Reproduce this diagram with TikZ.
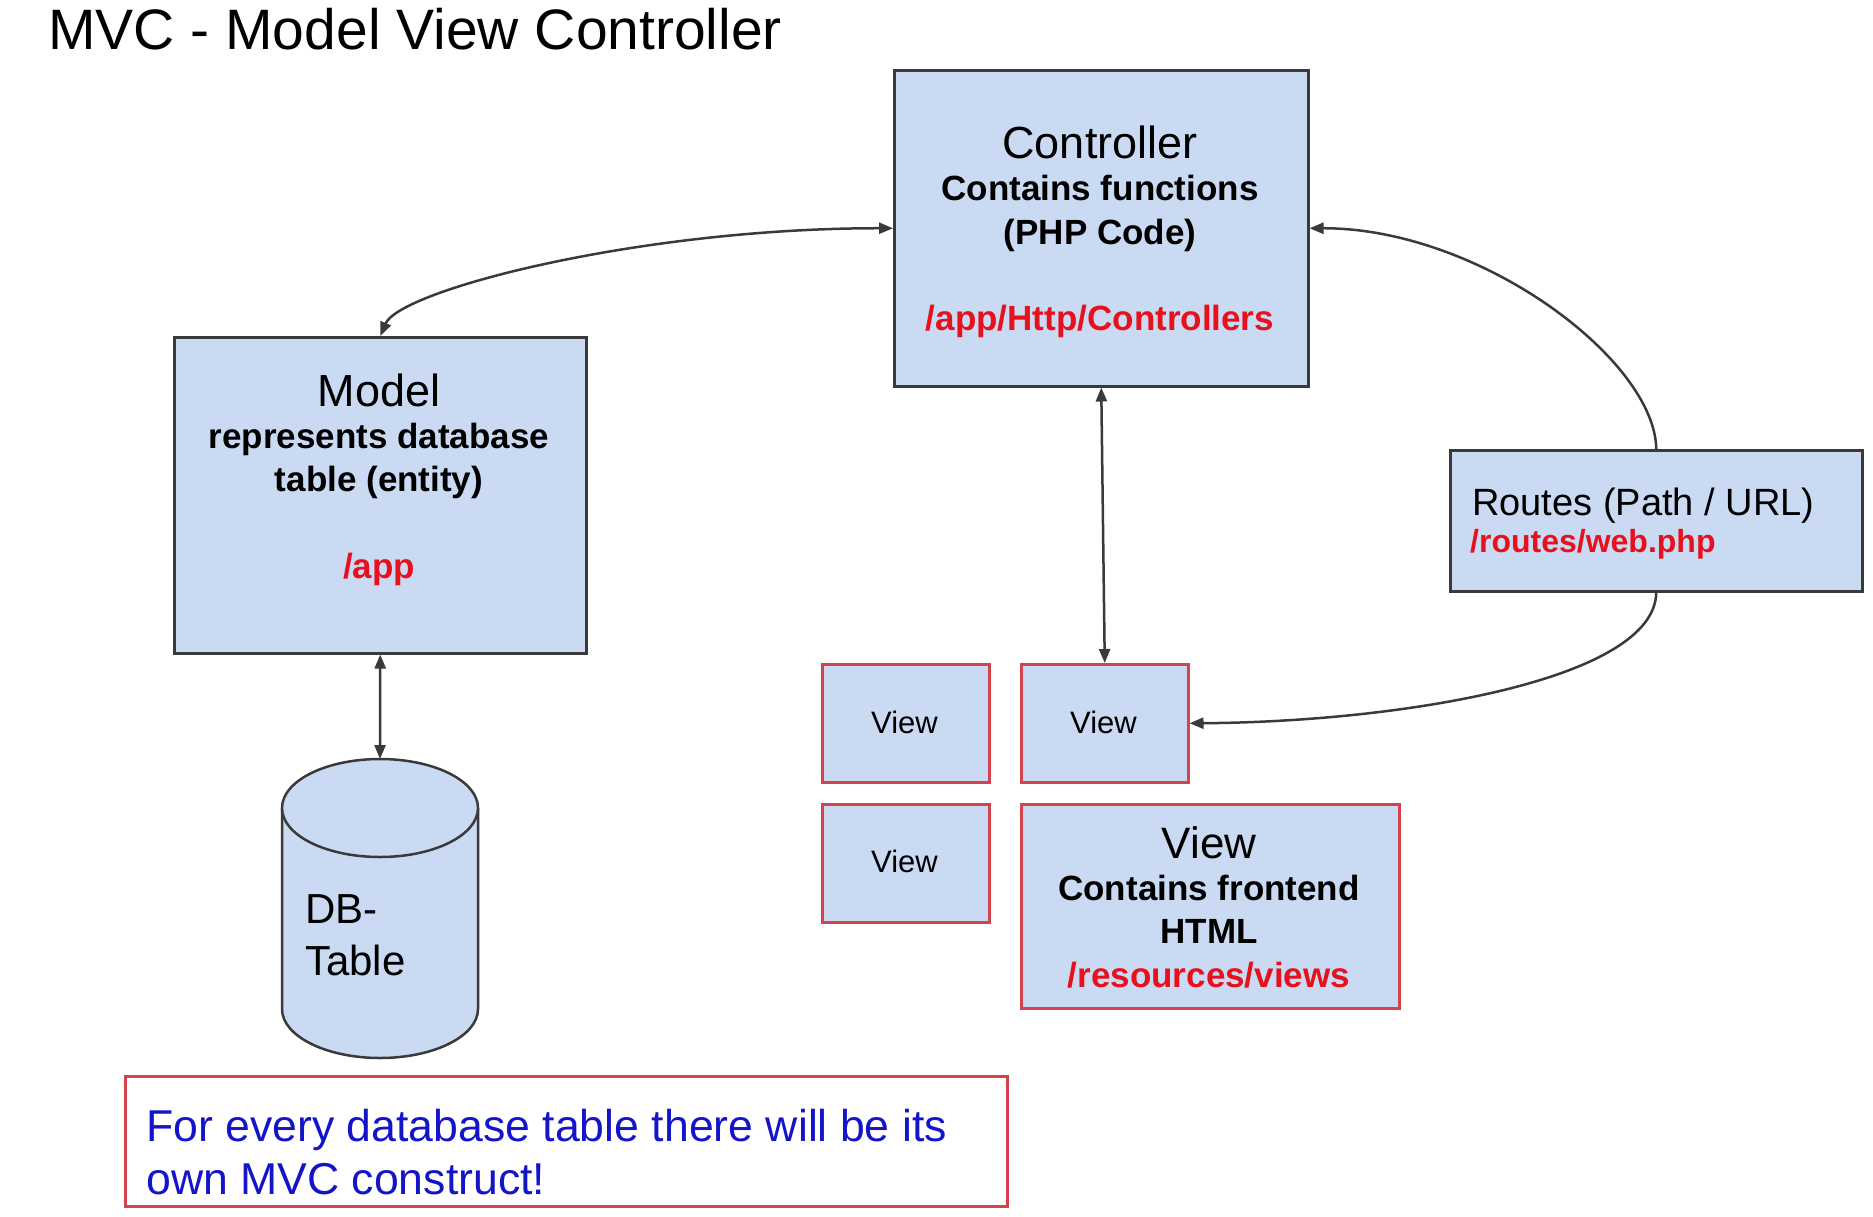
\documentclass[tikz,border=0pt]{standalone}
\usepackage{fontspec}
\setmainfont{Liberation Sans}
\usetikzlibrary{arrows.meta}
\definecolor{boxfill}{HTML}{C9DAF2}
\definecolor{boxline}{HTML}{3A3A3A}
\definecolor{viewline}{HTML}{D4424E}
\definecolor{pathred}{HTML}{E8101C}
\definecolor{noteblue}{HTML}{1414C8}
\begin{document}
\begin{tikzpicture}[x=1pt,y=-1pt,
  box/.style={draw=boxline, fill=boxfill, line width=2.5pt, inner sep=0pt, anchor=north west},
  viewbox/.style={draw=viewline, fill=boxfill, line width=2.5pt, inner sep=0pt, anchor=north west},
  notebox/.style={draw=viewline, fill=white, line width=2.5pt, inner sep=0pt, anchor=north west},
  txt/.style={inner sep=0pt, anchor=base},
  titlef/.style={txt, anchor=base west, font=\fontsize{57}{68}\selectfont},
  headf/.style={txt, font=\fontsize{45}{54}\selectfont},
  boldf/.style={txt, font=\fontsize{35}{42}\selectfont\bfseries},
  redf/.style={boldf, text=pathred},
  smallview/.style={txt, font=\fontsize{31}{37}\selectfont},
  conn/.style={draw=boxline, line width=2.5pt, -{Triangle[length=14pt,width=11pt]}},
  biconn/.style={draw=boxline, line width=2.5pt, {Triangle[length=14pt,width=11pt]}-{Triangle[length=14pt,width=11pt]}}
]
\useasboundingbox[fill=white] (0,0) rectangle (1873,1216);

% title
\node[titlef] (title) at (48,49) {MVC - Model View Controller};

% boxes
\node[box, minimum width=414pt, minimum height=316pt] (ctrl) at (893,69) {};
\node[box, minimum width=412pt, minimum height=316pt] (model) at (173,336) {};
\node[box, minimum width=412pt, minimum height=141pt] (routes) at (1449,449) {};
\node[viewbox, minimum width=167pt, minimum height=118pt] (v1) at (821,663) {};
\node[viewbox, minimum width=167pt, minimum height=118pt] (v2) at (1020,663) {};
\node[viewbox, minimum width=167pt, minimum height=118pt] (v3) at (821,803) {};
\node[viewbox, minimum width=378pt, minimum height=204pt] (vbig) at (1020,803) {};
\node[notebox, minimum width=882pt, minimum height=130pt] (note) at (124,1075) {};

% database cylinder
\fill[boxfill] (282,808) -- (282,1009)
  .. controls (282,1036) and (326,1058) .. (380,1058)
  .. controls (434,1058) and (478,1036) .. (478,1009) -- (478,808) -- cycle;
\draw[boxline, line width=2.5pt] (282,808) -- (282,1009)
  .. controls (282,1036) and (326,1058) .. (380,1058)
  .. controls (434,1058) and (478,1036) .. (478,1009) -- (478,808);
\draw[boxline, fill=boxfill, line width=2.5pt] (380,808) ellipse [x radius=98pt, y radius=49pt];
\coordinate (dbtop) at (380,759);

% texts: controller
\node[headf] (ctrlA) at (1100,158) {Controller};
\node[boldf] (ctrlB) at (1100,200) {Contains functions};
\node[boldf] (ctrlC) at (1100,244) {(PHP Code)};
\node[redf] (ctrlD) at (1100,330) {/app/Http/Controllers};

% model
\node[headf] (modelA) at (379,406) {Model};
\node[boldf] (modelB) at (379,448) {represents database};
\node[boldf] (modelC) at (379,491) {table (entity)};
\node[redf] (modelD) at (379,578) {/app};

% routes
\node[txt, anchor=base west, font=\fontsize{38}{46}\selectfont] (routesA) at (1472,515) {Routes (Path / URL)};
\node[txt, anchor=base west, font=\fontsize{32}{38}\selectfont\bfseries, text=pathred] (routesB) at (1470,552) {/routes/web.php};

% views
\node[smallview] (v1t) at (904.5,733) {View};
\node[smallview] (v2t) at (1103.5,733) {View};
\node[smallview] (v3t) at (904.5,872) {View};
\node[headf, font=\fontsize{44}{53}\selectfont] (vbA) at (1209,858) {View};
\node[boldf] (vbB) at (1209,900) {Contains frontend};
\node[boldf] (vbC) at (1209,943) {HTML};
\node[redf] (vbD) at (1209,987) {/resources/views};

% db text
\node[txt, anchor=base west, font=\fontsize{42}{50}\selectfont] (dbA) at (305,923) {DB-};
\node[txt, anchor=base west, font=\fontsize{42}{50}\selectfont] (dbB) at (305,975) {Table};

% note text
\node[txt, anchor=base west, font=\fontsize{44.6}{53}\selectfont, text=noteblue] (noteA) at (146,1141) {For every database table there will be its};
\node[txt, anchor=base west, font=\fontsize{44.6}{53}\selectfont, text=noteblue] (noteB) at (146,1194) {own MVC construct!};

% connectors
\draw[biconn] (model.north) .. controls (400,290) and (640,228) .. (ctrl.west);
\draw[biconn] (ctrl.south) -- (v2.north);
\draw[biconn] (model.south) -- (dbtop);
\draw[conn] (routes.north) .. controls (1655,360) and (1480,228) .. (ctrl.east);
\draw[conn] (routes.south) .. controls (1655,680) and (1400,722) .. (v2.east);
\end{tikzpicture}
\end{document}
